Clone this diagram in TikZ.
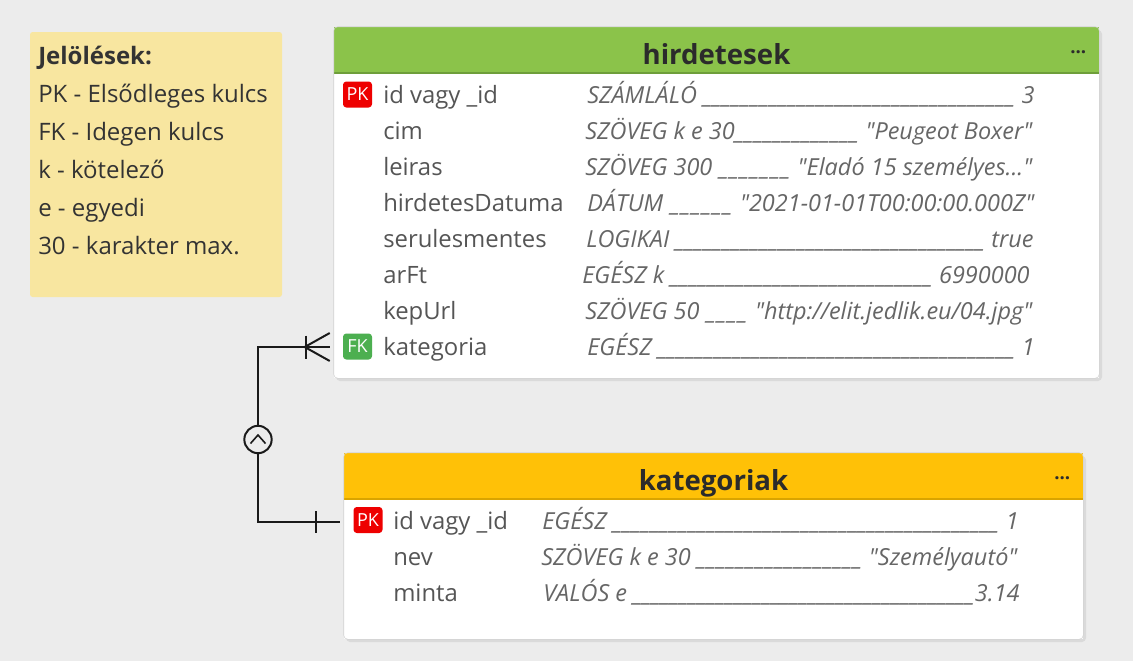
\documentclass[tikz,border=0pt]{standalone}
\usepackage{fontspec}
\setmainfont{Open Sans}
\newfontfamily\typefont{Open Sans}
\usepackage{tikz}
\usetikzlibrary{positioning,calc,fit}
\usepackage{xcolor}
\definecolor{canvas}{HTML}{ECECEC}
\definecolor{notefill}{HTML}{F8E6A0}
\definecolor{notetext}{HTML}{333333}
\definecolor{tableline}{HTML}{D3D3D3}
\definecolor{shadowgray}{HTML}{DADADA}
\definecolor{greenhead}{HTML}{8BC34A}
\definecolor{greenline}{HTML}{6E9E3A}
\definecolor{yellowhead}{HTML}{FFC107}
\definecolor{yellowline}{HTML}{D9A400}
\definecolor{pkred}{HTML}{EE0000}
\definecolor{fkgreen}{HTML}{4CAF50}
\definecolor{titletext}{HTML}{2B2B2B}
\definecolor{fieldtext}{HTML}{555555}
\definecolor{typetext}{HTML}{666666}
\definecolor{connector}{HTML}{1A1A1A}
\newcommand{\typerow}[3]{\hbox to #1{#2\xleaders\hbox{\_}\hfill #3}}
\newcommand{\hirdw}{335.25pt}
\newcommand{\katw}{357pt}
\tikzset{
  notebox/.style={fill=notefill,rounded corners=2pt,inner sep=0pt},
  noteline/.style={anchor=base west,inner sep=0pt,text=notetext,
    font=\fontsize{18}{22}\selectfont},
  shadowbox/.style={fill=shadowgray,rounded corners=3pt,inner sep=0pt},
  tablebox/.style={fill=white,inner sep=0pt},
  tableborder/.style={draw=tableline,rounded corners=3pt,thin},
  headbox/.style={inner sep=0pt},
  headline/.style={line width=1.5pt},
  tabletitle/.style={anchor=base,inner sep=0pt,text=titletext,
    font=\fontsize{20.7}{24}\selectfont\bfseries},
  menudots/.style={inner sep=0pt,text=titletext,font=\fontsize{14}{14}\selectfont\bfseries},
  field/.style={anchor=base west,inner sep=0pt,text=fieldtext,
    font=\fontsize{17.9}{22}\selectfont},
  ftype/.style={anchor=base west,inner sep=0pt,text=typetext,
    font=\typefont\fontsize{17.6}{22}\selectfont\itshape},
  badge/.style={text=white,rounded corners=2.5pt,inner sep=0pt,
    minimum width=21.75pt,minimum height=19.5pt,font=\fontsize{13.5}{13.5}\selectfont},
  rel/.style={draw=connector,line width=1.5pt},
  optcircle/.style={circle,draw=connector,line width=1.5pt,minimum size=20.5pt,inner sep=0pt}
}
\begin{document}
\begin{tikzpicture}[x=0.75pt,y=-0.75pt]
  \path[fill=canvas] (0,0) rectangle (1133,661);
  % legend
  \node[notebox,fit={(30,32) (282,297)}] (legend) {};
  \node[noteline,font=\fontsize{18}{22}\selectfont\bfseries] (legtitle) at (38,64) {Jelölések:};
  \node[noteline] (legpk) at (38,102) {PK - Elsődleges kulcs};
  \node[noteline] (legfk) at (38,140) {FK - Idegen kulcs};
  \node[noteline] (legk) at (38,178) {k - kötelező};
  \node[noteline] (lege) at (38,216) {e - egyedi};
  \node[noteline] (legmax) at (38,254) {30 - karakter max.};

  % hirdetesek
  \node[shadowbox,fit={(336,30) (1102,381)}] (hirdshadow) {};
  \node[tablebox,fit={(334,27) (1099,378)}] (hird) {};
  \node[headbox,fill=greenhead,fit={(334,27) (1099,73)}] (hirdhead) {};
  \draw[headline,draw=greenline] (hirdhead.south west) -- (hirdhead.south east);
  \draw[tableborder] (hird.north west) rectangle (hird.south east);
  \node[tabletitle] (hirdtitle) at ($(hirdhead.south)+(0,-9)$) {hirdetesek};
  \node[menudots] (hirdmenu) at ($(hirdhead.east)+(-21,2)$) {...};

  \node[badge,fill=pkred] (hird-pk) at (357.5,94.5) {PK};
  \node[field] (hird-id) at (383,103.5) {id vagy \_id};
  \node[field] (hird-cim) at (383,139.5) {cim};
  \node[field] (hird-leiras) at (383,175.5) {leiras};
  \node[field] (hird-datum) at (383,211.5) {hirdetesDatuma};
  \node[field] (hird-serul) at (383,247.5) {serulesmentes};
  \node[field] (hird-ar) at (383,283.5) {arFt};
  \node[field] (hird-kep) at (383,319.5) {kepUrl};
  \node[badge,fill=fkgreen] (hird-fk) at (357.5,346.5) {FK};
  \node[field] (hird-kat) at (383,355.5) {kategoria};

  \node[ftype] (hird-id-t) at (587,103.5) {\typerow{\hirdw}{SZÁMLÁLÓ\ }{\ 3}};
  \node[ftype] (hird-cim-t) at (585,139.5) {\typerow{\hirdw}{SZÖVEG k e 30}{\ "Peugeot Boxer"}};
  \node[ftype] (hird-leiras-t) at (585,175.5) {\typerow{\hirdw}{SZÖVEG 300\ }{\ "Eladó 15 személyes..."}};
  \node[ftype] (hird-datum-t) at (587,211.5) {\typerow{\hirdw}{DÁTUM\ }{\ "2021-01-01T00:00:00.000Z"}};
  \node[ftype] (hird-serul-t) at (586,247.5) {\typerow{\hirdw}{LOGIKAI\ }{\ true}};
  \node[ftype] (hird-ar-t) at (582,283.5) {\typerow{\hirdw}{EGÉSZ k\ }{\ 6990000}};
  \node[ftype] (hird-kep-t) at (585,319.5) {\typerow{\hirdw}{SZÖVEG 50\ }{\ "http://elit.jedlik.eu/04.jpg"}};
  \node[ftype] (hird-kat-t) at (587,355.5) {\typerow{\hirdw}{EGÉSZ\ }{\ 1}};

  % kategoriak
  \node[shadowbox,fit={(346,456) (1086,642)}] (katshadow) {};
  \node[tablebox,fit={(344,453) (1083,639)}] (kat) {};
  \node[headbox,fill=yellowhead,fit={(344,453) (1083,499)}] (kathead) {};
  \draw[headline,draw=yellowline] (kathead.south west) -- (kathead.south east);
  \draw[tableborder] (kat.north west) rectangle (kat.south east);
  \node[tabletitle] (kattitle) at ($(kathead.south)+(0,-9)$) {kategoriak};
  \node[menudots] (katmenu) at ($(kathead.east)+(-21,2)$) {...};

  \node[badge,fill=pkred] (kat-pk) at (368,520) {PK};
  \node[field] (kat-id) at (393,529.5) {id vagy \_id};
  \node[field] (kat-nev) at (393,565.5) {nev};
  \node[field] (kat-minta) at (393,601.5) {minta};

  \node[ftype] (kat-id-t) at (542,529.5) {\typerow{\katw}{EGÉSZ\ }{\ 1}};
  \node[ftype] (kat-nev-t) at (541,565.5) {\typerow{\katw}{SZÖVEG k e 30\ }{\ "Személyautó"}};
  \node[ftype] (kat-minta-t) at (543,601.5) {\typerow{\katw}{VALÓS e\ }{3.14}};

  % relation
  \coordinate (fkend) at ($(hird.west |- hird-fk)+(-4,0.5)$);
  \coordinate (pkend) at ($(kat.west |- kat-pk)+(-4,2)$);
  \node[optcircle] (opt) at (258,439.5) {};
  \draw[rel] (fkend) -| (opt.north);
  \draw[rel] (opt.south) |- (pkend);
  \draw[rel] (fkend) ++(0,-14) -- ++(-25,14) -- ++(25,14);
  \draw[rel] (fkend) ++(-24,-11.5) -- ++(0,23);
  \draw[rel] (pkend) ++(-24,-11) -- ++(0,22);
  \draw[rel,line width=1.2pt] (opt.center) ++(-7.5,4) -- ++(7.5,-8.5) -- ++(7.5,8.5);
\end{tikzpicture}
\end{document}
